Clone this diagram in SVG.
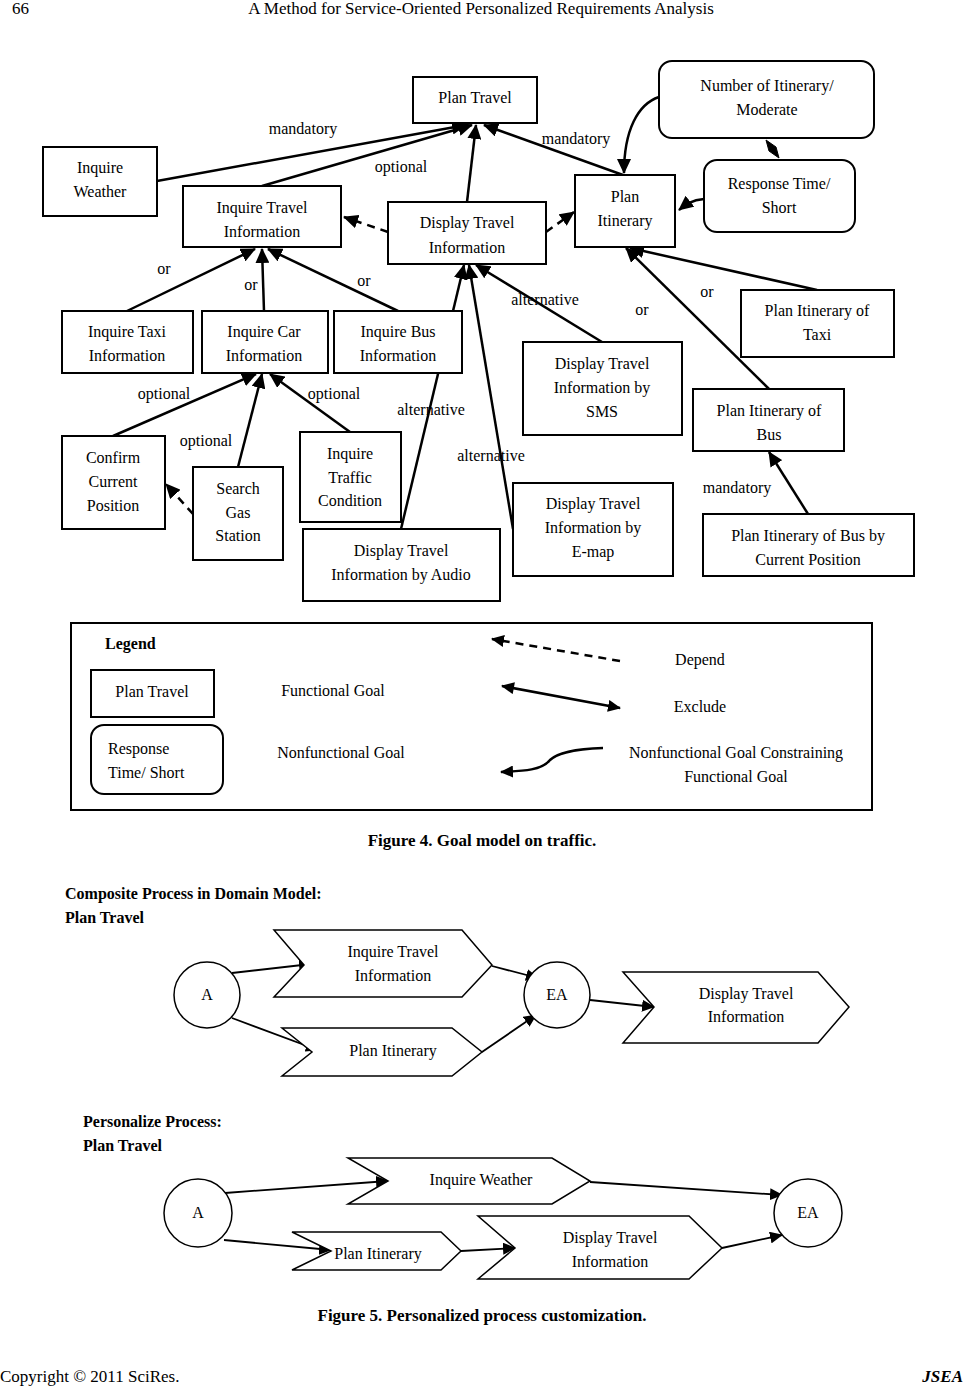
<svg xmlns="http://www.w3.org/2000/svg" width="963" height="1386" viewBox="0 0 963 1386">
<style>
text{font-family:"Liberation Serif","Times New Roman",serif;font-size:16px;fill:#000;text-anchor:middle}
.b{font-weight:bold}
.l{text-anchor:start}
.box{fill:#fff;stroke:#000;stroke-width:2}
.rbox{fill:#fff;stroke:#000;stroke-width:2}
.ln{fill:none;stroke:#000;stroke-width:2.5}
.ds{fill:none;stroke:#000;stroke-width:2.5;stroke-dasharray:8 6}
.th{fill:none;stroke:#000;stroke-width:1.8}
.circ{fill:#fff;stroke:#000;stroke-width:1.5}
.chev{fill:#fff;stroke:#000;stroke-width:1.5}
</style>
<defs>
<marker id="ah" markerUnits="userSpaceOnUse" markerWidth="16" markerHeight="14" refX="14" refY="7" orient="auto">
<path d="M0,0 L15,7 L0,14 Z" fill="#000"/>
</marker>
<marker id="ahs" markerUnits="userSpaceOnUse" markerWidth="14" markerHeight="12" refX="12" refY="6" orient="auto">
<path d="M0,0 L13,6 L0,12 Z" fill="#000"/>
</marker>
<marker id="ahst" markerUnits="userSpaceOnUse" markerWidth="14" markerHeight="12" refX="1" refY="6" orient="auto">
<path d="M13,0 L0,6 L13,12 Z" fill="#000"/>
</marker>
</defs>

<g id="header">
<text x="12" y="14" class="l" style="font-size:17px">66</text>
<text x="481" y="14" style="font-size:17px">A Method for Service-Oriented Personalized Requirements Analysis</text>
</g>

<g id="connectors">
<line class="ln" x1="157" y1="181" x2="466" y2="125" marker-end="url(#ah)"/>
<line class="ln" x1="262" y1="186" x2="472" y2="125" marker-end="url(#ah)"/>
<line class="ln" x1="467" y1="202" x2="476" y2="125" marker-end="url(#ah)"/>
<line class="ln" x1="623" y1="175" x2="484" y2="125" marker-end="url(#ah)"/>
<path class="ln" d="M659,97 C638,104 624,130 624,173" marker-end="url(#ah)"/>
<path class="ln" d="M704,199 C690,200 684,206 679,210" marker-end="url(#ah)"/>
<polygon points="766,140 776,147 779,158 769,151" fill="#000" stroke="#000" stroke-width="1"/>
<line class="ds" x1="388" y1="232" x2="344" y2="217" marker-end="url(#ah)"/>
<line class="ds" x1="546" y1="232" x2="574" y2="212" marker-end="url(#ah)"/>
<line class="ln" x1="127" y1="311" x2="255" y2="249" marker-end="url(#ah)"/>
<line class="ln" x1="264" y1="311" x2="262" y2="249" marker-end="url(#ah)"/>
<line class="ln" x1="398" y1="311" x2="268" y2="249" marker-end="url(#ah)"/>
<line class="ln" x1="401" y1="529" x2="464" y2="265" marker-end="url(#ah)"/>
<line class="ln" x1="513" y1="529" x2="469" y2="265" marker-end="url(#ah)"/>
<line class="ln" x1="602" y1="342" x2="476" y2="265" marker-end="url(#ah)"/>
<line class="ln" x1="817" y1="290" x2="630" y2="248" marker-end="url(#ah)"/>
<line class="ln" x1="769" y1="389" x2="626" y2="248" marker-end="url(#ah)"/>
<line class="ln" x1="808" y1="514" x2="769" y2="452" marker-end="url(#ah)"/>
<line class="ln" x1="113" y1="436" x2="256" y2="374" marker-end="url(#ah)"/>
<line class="ln" x1="238" y1="467" x2="262" y2="374" marker-end="url(#ah)"/>
<line class="ln" x1="350" y1="432" x2="270" y2="374" marker-end="url(#ah)"/>
<line class="ds" x1="193" y1="514" x2="166" y2="484" marker-end="url(#ah)"/>
</g>

<g id="labels">
<text x="303" y="134">mandatory</text>
<text x="401" y="172">optional</text>
<text x="576" y="144">mandatory</text>
<text x="164" y="274">or</text>
<text x="251" y="290">or</text>
<text x="364" y="286">or</text>
<text x="545" y="305">alternative</text>
<text x="642" y="315">or</text>
<text x="707" y="297">or</text>
<text x="164" y="399">optional</text>
<text x="334" y="399">optional</text>
<text x="206" y="446">optional</text>
<text x="431" y="415">alternative</text>
<text x="491" y="461">alternative</text>
<text x="737" y="493">mandatory</text>
</g>

<g id="plan-travel"><rect class="box" x="413" y="77" width="124" height="46"/><text x="475" y="103">Plan Travel</text></g>
<g id="number-itinerary"><rect class="rbox" x="659" y="61" width="215" height="77" rx="13"/><text x="767" y="91">Number of Itinerary/</text><text x="767" y="115">Moderate</text></g>
<g id="response-time"><rect class="rbox" x="704" y="160" width="151" height="72" rx="13"/><text x="779" y="189">Response Time/</text><text x="779" y="213">Short</text></g>
<g id="inquire-weather"><rect class="box" x="43" y="147" width="114" height="69"/><text x="100" y="173">Inquire</text><text x="100" y="197">Weather</text></g>
<g id="inquire-travel-info"><rect class="box" x="183" y="186" width="158" height="61"/><text x="262" y="213">Inquire Travel</text><text x="262" y="237">Information</text></g>
<g id="display-travel-info"><rect class="box" x="388" y="202" width="158" height="62"/><text x="467" y="228">Display Travel</text><text x="467" y="253">Information</text></g>
<g id="plan-itinerary"><rect class="box" x="575" y="175" width="100" height="72"/><text x="625" y="202">Plan</text><text x="625" y="226">Itinerary</text></g>
<g id="inquire-taxi"><rect class="box" x="62" y="311" width="131" height="62"/><text x="127" y="337">Inquire Taxi</text><text x="127" y="361">Information</text></g>
<g id="inquire-car"><rect class="box" x="202" y="311" width="126" height="62"/><text x="264" y="337">Inquire Car</text><text x="264" y="361">Information</text></g>
<g id="inquire-bus"><rect class="box" x="334" y="311" width="128" height="62"/><text x="398" y="337">Inquire Bus</text><text x="398" y="361">Information</text></g>
<g id="plan-itinerary-taxi"><rect class="box" x="741" y="290" width="153" height="67"/><text x="817" y="316">Plan Itinerary of</text><text x="817" y="340">Taxi</text></g>
<g id="display-sms"><rect class="box" x="523" y="342" width="159" height="93"/><text x="602" y="369">Display Travel</text><text x="602" y="393">Information by</text><text x="602" y="417">SMS</text></g>
<g id="plan-itinerary-bus"><rect class="box" x="693" y="389" width="151" height="62"/><text x="769" y="416">Plan Itinerary of</text><text x="769" y="440">Bus</text></g>
<g id="confirm-position"><rect class="box" x="62" y="436" width="103" height="93"/><text x="113" y="463">Confirm</text><text x="113" y="487">Current</text><text x="113" y="511">Position</text></g>
<g id="search-gas"><rect class="box" x="193" y="467" width="90" height="93"/><text x="238" y="494">Search</text><text x="238" y="518">Gas</text><text x="238" y="541">Station</text></g>
<g id="inquire-traffic"><rect class="box" x="300" y="432" width="101" height="90"/><text x="350" y="459">Inquire</text><text x="350" y="483">Traffic</text><text x="350" y="506">Condition</text></g>
<g id="display-audio"><rect class="box" x="303" y="529" width="197" height="72"/><text x="401" y="556">Display Travel</text><text x="401" y="580">Information by Audio</text></g>
<g id="display-emap"><rect class="box" x="513" y="483" width="160" height="93"/><text x="593" y="509">Display Travel</text><text x="593" y="533">Information by</text><text x="593" y="557">E-map</text></g>
<g id="plan-bus-position"><rect class="box" x="703" y="514" width="211" height="62"/><text x="808" y="541">Plan Itinerary of Bus by</text><text x="808" y="565">Current Position</text></g>

<g id="legend">
<rect x="71" y="623" width="801" height="187" fill="none" stroke="#000" stroke-width="2"/>
<text x="105" y="649" class="l b">Legend</text>
<rect class="box" x="91" y="670" width="123" height="47"/><text x="152" y="697">Plan Travel</text>
<rect class="rbox" x="91" y="725" width="132" height="69" rx="13"/>
<text x="108" y="754" class="l">Response</text><text x="108" y="778" class="l">Time/ Short</text>
<text x="333" y="696">Functional Goal</text>
<text x="341" y="758">Nonfunctional Goal</text>
<line class="ds" x1="620" y1="661" x2="492" y2="639" marker-end="url(#ahs)"/>
<line class="ln" x1="502" y1="686" x2="620" y2="708" marker-start="url(#ahst)" marker-end="url(#ahs)"/>
<path class="ln" d="M603,748 C570,749 555,755 550,760 C542,770 525,771 501,772" marker-end="url(#ahs)"/>
<text x="700" y="665">Depend</text>
<text x="700" y="712">Exclude</text>
<text x="736" y="758">Nonfunctional Goal Constraining</text>
<text x="736" y="782">Functional Goal</text>
</g>

<text x="482" y="846" class="b" style="font-size:17px">Figure 4. Goal model on traffic.</text>

<g id="fig5-title1">
<text x="65" y="899" class="l b">Composite Process in Domain Model:</text>
<text x="65" y="923" class="l b">Plan Travel</text>
</g>

<g id="fig5-connectors">
<line class="th" x1="232" y1="973" x2="311" y2="964" marker-end="url(#ahs)"/>
<line class="th" x1="232" y1="1018" x2="318" y2="1050" marker-end="url(#ahs)"/>
<line class="th" x1="492" y1="966" x2="538" y2="978" marker-end="url(#ahs)"/>
<line class="th" x1="482" y1="1052" x2="536" y2="1015" marker-end="url(#ahs)"/>
<line class="th" x1="590" y1="1000" x2="654" y2="1007" marker-end="url(#ahs)"/>
<line class="th" x1="225" y1="1193" x2="388" y2="1181" marker-end="url(#ahs)"/>
<line class="th" x1="224" y1="1240" x2="331" y2="1250" marker-end="url(#ahs)"/>
<line class="th" x1="461" y1="1251" x2="515" y2="1248" marker-end="url(#ahs)"/>
<line class="th" x1="590" y1="1182" x2="782" y2="1195" marker-end="url(#ahs)"/>
<line class="th" x1="722" y1="1248" x2="782" y2="1235" marker-end="url(#ahs)"/>
</g>

<g id="p1-A"><circle class="circ" cx="207" cy="995" r="33"/><text x="207" y="1000">A</text></g>
<g id="p1-EA"><circle class="circ" cx="557" cy="995" r="33"/><text x="557" y="1000">EA</text></g>
<g id="p1-inquire-travel"><polygon class="chev" points="274,930 462,930 492,965 462,997 274,997 304,965"/><text x="393" y="957">Inquire Travel</text><text x="393" y="981">Information</text></g>
<g id="p1-plan-itinerary"><polygon class="chev" points="282,1028 452,1028 482,1052 452,1076 282,1076 312,1052"/><text x="393" y="1056">Plan Itinerary</text></g>
<g id="p1-display-travel"><polygon class="chev" points="623,972 818,972 849,1007 818,1043 623,1043 654,1007"/><text x="746" y="999">Display Travel</text><text x="746" y="1022">Information</text></g>

<g id="fig5-title2">
<text x="83" y="1127" class="l b">Personalize Process:</text>
<text x="83" y="1151" class="l b">Plan Travel</text>
</g>

<g id="p2-A"><circle class="circ" cx="198" cy="1213" r="34"/><text x="198" y="1218">A</text></g>
<g id="p2-EA"><circle class="circ" cx="808" cy="1213" r="34"/><text x="808" y="1218">EA</text></g>
<g id="p2-inquire-weather"><polygon class="chev" points="348,1158 552,1158 590,1181 552,1204 348,1204 388,1181"/><text x="481" y="1185">Inquire Weather</text></g>
<g id="p2-plan-itinerary"><polygon class="chev" points="292,1232 441,1232 461,1251 441,1270 292,1270 331,1251"/><text x="378" y="1259">Plan Itinerary</text></g>
<g id="p2-display-travel"><polygon class="chev" points="478,1216 689,1216 722,1248 689,1279 478,1279 515,1248"/><text x="610" y="1243">Display Travel</text><text x="610" y="1267">Information</text></g>

<text x="482" y="1321" class="b" style="font-size:17px">Figure 5. Personalized process customization.</text>

<g id="footer">
<text x="0" y="1382" class="l" style="font-size:17px">Copyright © 2011 SciRes.</text>
<text x="963" y="1382" class="b" style="font-size:17px;font-style:italic;text-anchor:end">JSEA</text>
</g>
</svg>
